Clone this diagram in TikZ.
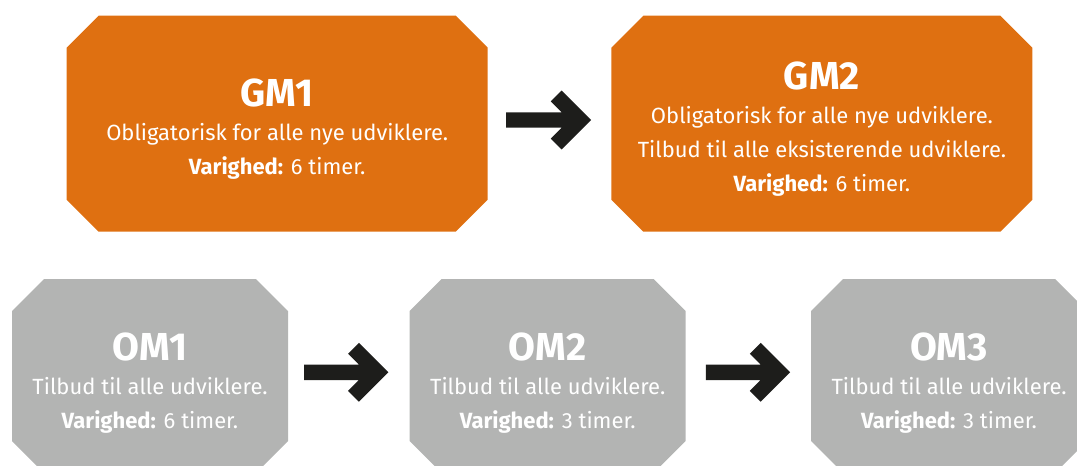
\documentclass[tikz,border=0pt]{standalone}
\usepackage{fontspec}
\setmainfont{Fira Sans}
\usetikzlibrary{positioning, calc}

\definecolor{gmorange}{RGB}{223,112,17}
\definecolor{omgray}{RGB}{179,180,179}
\definecolor{arrowblack}{RGB}{29,29,27}

\tikzset{
  modbox/.style={rectangle, inner sep=0pt, draw=none,
    path picture={
      \fill[#1] ([xshift=32pt]path picture bounding box.north west)
        -- ([xshift=-32pt]path picture bounding box.north east)
        -- ([yshift=-32pt]path picture bounding box.north east)
        -- ([yshift=32pt]path picture bounding box.south east)
        -- ([xshift=-32pt]path picture bounding box.south east)
        -- ([xshift=32pt]path picture bounding box.south west)
        -- ([yshift=32pt]path picture bounding box.south west)
        -- ([yshift=-32pt]path picture bounding box.north west) -- cycle;}},
  gmbox/.style={modbox=gmorange, minimum width=421pt, minimum height=216pt},
  ombox/.style={modbox=omgray, minimum width=276pt, minimum height=194pt},
  modtext/.style={text=white, align=center, font=\fontsize{22}{34}\selectfont},
  fatarrow/.style={draw=arrowblack, line width=15.4pt,
    to path={(\tikztostart) -- ($(\tikztotarget)+(-11,0)$)
      ($(\tikztotarget)+(-35,-24)$) -- ($(\tikztotarget)+(-11,0)$) -- ($(\tikztotarget)+(-35,24)$)}},
}
\newcommand{\modtitle}[1]{{\fontsize{39}{34}\selectfont\bfseries #1}}

\begin{document}
\begin{tikzpicture}[x=1pt, y=-1pt]
  \useasboundingbox (0,0) rectangle (1077,466);
  \clip (0,0) rectangle (1077,466);

  % grundmoduler
  \node[gmbox] (gm1) at (277.2,123.7) {};
  \node[gmbox, right=123.3pt of gm1] (gm2) {};
  \node[modtext] (gm1txt) at ([yshift=-5.8pt]gm1.center)
    {\modtitle{GM1}\\ Obligatorisk for alle nye udviklere.\\ \textbf{Varighed:} 6 timer.};
  \node[modtext] (gm2txt) at ([yshift=-5.8pt]gm2.center)
    {\modtitle{GM2}\\ Obligatorisk for alle nye udviklere.\\ Tilbud til alle eksisterende udviklere.\\ \textbf{Varighed:} 6 timer.};

  % overbygningsmoduler
  \node[ombox] (om1) at (150,376) {};
  \node[ombox, right=121.3pt of om1] (om2) {};
  \node[ombox, right=125pt of om2] (om3) {};
  \node[modtext] (om1txt) at ([yshift=-7pt]om1.center)
    {\modtitle{OM1}\\ Tilbud til alle udviklere.\\ \textbf{Varighed:} 6 timer.};
  \node[modtext] (om2txt) at ([yshift=-7pt]om2.center)
    {\modtitle{OM2}\\ Tilbud til alle udviklere.\\ \textbf{Varighed:} 3 timer.};
  \node[modtext] (om3txt) at ([yshift=-7pt]om3.center)
    {\modtitle{OM3}\\ Tilbud til alle udviklere.\\ \textbf{Varighed:} 3 timer.};

  % pile
  \coordinate (a1s) at ([xshift=18.3pt, yshift=3.7pt]gm1.east);
  \coordinate (a1e) at ([xshift=-20pt, yshift=3.7pt]gm2.west);
  \coordinate (a2s) at ([xshift=16pt, yshift=3.7pt]om1.east);
  \coordinate (a2e) at ([xshift=-21pt, yshift=3.7pt]om2.west);
  \coordinate (a3s) at ([xshift=20pt, yshift=3.7pt]om2.east);
  \coordinate (a3e) at ([xshift=-20.7pt, yshift=3.7pt]om3.west);
  \draw[fatarrow] (a1s) to (a1e);
  \draw[fatarrow] (a2s) to (a2e);
  \draw[fatarrow] (a3s) to (a3e);
\end{tikzpicture}
\end{document}
